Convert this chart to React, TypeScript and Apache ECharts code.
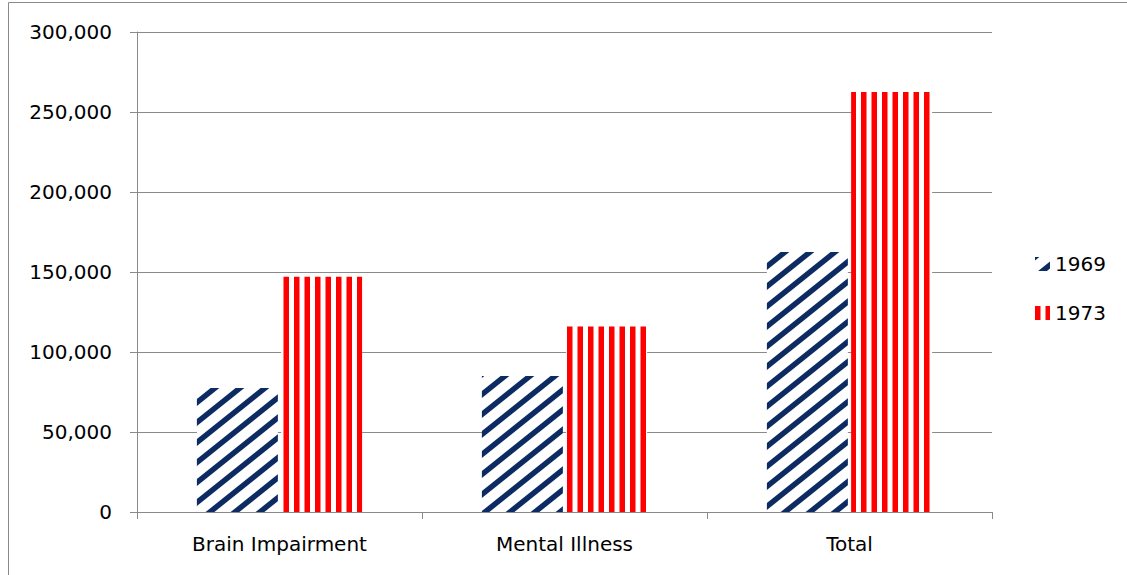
import React, { useEffect, useRef } from "react";
import * as echarts from "echarts";

// Categories and yearly counts
const categories = ["Brain Impairment", "Mental Illness", "Total"];
const years = ["1969", "1973"];
const values1969 = [77500, 85000, 162500];
const values1973 = [147000, 116000, 262500];

const Y_MIN = 0;
const Y_MAX = 300000;
const Y_STEP = 50000;

const NAVY = "#0d2b63";
const RED = "#ff0000";
const GRID_GRAY = "#8a8a8a";
const FONT = "DejaVu Sans";

// Wide upward-diagonal hatch tile
function diagonalTile(): HTMLCanvasElement {
  const w = 25;
  const h = 20;
  const c = document.createElement("canvas");
  c.width = w;
  c.height = h;
  const ctx = c.getContext("2d")!;
  ctx.fillStyle = "#ffffff";
  ctx.fillRect(0, 0, w, h);
  ctx.strokeStyle = NAVY;
  ctx.lineWidth = 5.5;
  for (const dx of [-w, 0, w]) {
    ctx.beginPath();
    ctx.moveTo(dx - 5, h + 4);
    ctx.lineTo(dx + w + 5, -4);
    ctx.stroke();
  }
  return c;
}

// Vertical stripe tile
function verticalTile(): HTMLCanvasElement {
  const w = 21;
  const h = 4;
  const c = document.createElement("canvas");
  c.width = w;
  c.height = h;
  const ctx = c.getContext("2d")!;
  ctx.fillStyle = "#ffffff";
  ctx.fillRect(0, 0, w, h);
  ctx.fillStyle = RED;
  ctx.fillRect(0, 0, 5.5, h);
  ctx.fillRect(10.5, 0, 5.5, h);
  return c;
}

export default function App() {
  const ref = useRef<HTMLDivElement>(null);

  useEffect(() => {
    if (!ref.current) return;
    const chart = echarts.init(ref.current, null, { renderer: "svg" });

    const diag = diagonalTile();
    const vert = verticalTile();
    const diagPattern: any = {
      image: diag,
      repeat: "repeat",
      imageWidth: diag.width,
      imageHeight: diag.height,
    };
    const vertPattern: any = {
      image: vert,
      repeat: "repeat",
      imageWidth: vert.width,
      imageHeight: vert.height,
    };

    chart.setOption({
      animation: false,
      backgroundColor: "#ffffff",
      textStyle: { fontFamily: FONT },
      graphic: [
        {
          type: "rect",
          shape: { x: 8.5, y: 2.5, width: 1300, height: 800 },
          style: { fill: "none", stroke: GRID_GRAY, lineWidth: 1 },
          silent: true,
          z: -10,
        },
      ],
      grid: { left: 137, right: 135, top: 32, bottom: 63 },
      legend: {
        orient: "vertical",
        left: 1035,
        top: 254,
        padding: 0,
        itemWidth: 15,
        itemHeight: 14,
        itemGap: 29,
        itemTextGap: 8,
        icon: "rect",
        textStyle: {
          fontFamily: FONT,
          fontSize: 20,
          color: "#000000",
          lineHeight: 20,
        },
        data: years,
      },
      xAxis: {
        type: "category",
        data: categories,
        axisLine: { lineStyle: { color: GRID_GRAY, width: 1 } },
        axisTick: { show: true, length: 7, lineStyle: { color: GRID_GRAY } },
        axisLabel: {
          fontFamily: FONT,
          fontSize: 20,
          color: "#000000",
          margin: 22,
        },
      },
      yAxis: {
        type: "value",
        min: Y_MIN,
        max: Y_MAX,
        interval: Y_STEP,
        axisLine: { show: true, lineStyle: { color: GRID_GRAY, width: 1 } },
        axisTick: { show: true, length: 7, lineStyle: { color: GRID_GRAY } },
        splitLine: { show: true, lineStyle: { color: GRID_GRAY, width: 1 } },
        axisLabel: {
          fontFamily: FONT,
          fontSize: 20,
          color: "#000000",
          margin: 25,
          formatter: (v: number) => v.toLocaleString("en-US"),
        },
      },
      series: [
        {
          name: years[0],
          type: "bar",
          data: values1969,
          barWidth: 81,
          barGap: "4%",
          itemStyle: { color: diagPattern },
        },
        {
          name: years[1],
          type: "bar",
          data: values1973,
          barWidth: 81,
          itemStyle: { color: vertPattern },
        },
      ],
    });

    return () => chart.dispose();
  }, []);

  return (
    <div
      ref={ref}
      style={{ position: "fixed", left: 0, top: 0, width: 1127, height: 575 }}
    />
  );
}
